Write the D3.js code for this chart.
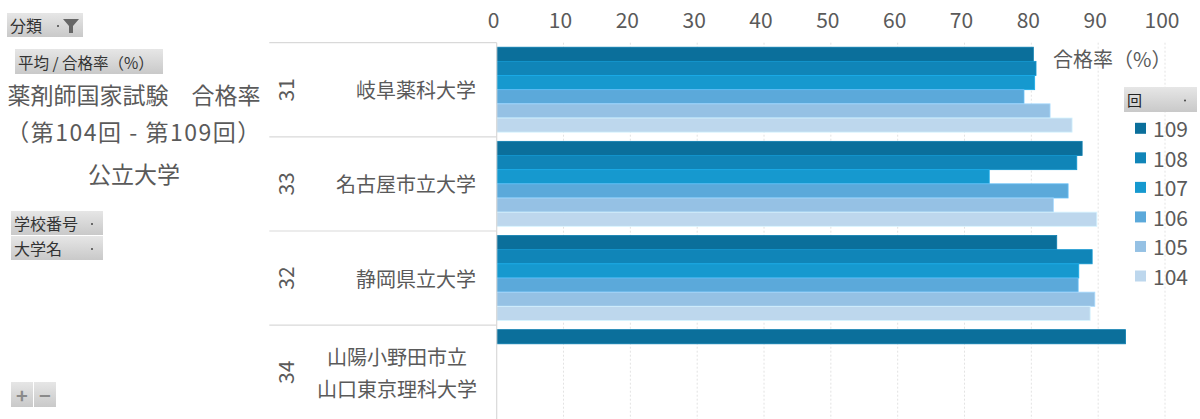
<!DOCTYPE html>
<html><head><meta charset="utf-8">
<script src="https://cdn.jsdelivr.net/npm/d3@7/dist/d3.min.js"></script>
<style>
html,body{margin:0;padding:0;background:#fff;}
svg{display:block;font-family:"Noto Sans CJK JP","Noto Sans",sans-serif;}
</style></head>
<body>
<svg id="chart" width="1200" height="419"></svg>
<script>
// ---- data ----
const schoolIds = ["31", "33", "32", "34"];
const schoolNames = [["岐阜薬科大学"], ["名古屋市立大学"], ["静岡県立大学"], ["山陽小野田市立", "山口東京理科大学"]];
const seriesNames = ["109", "108", "107", "106", "105", "104"];
const s109 = [80.3, 87.6, 83.8, 94.1];
const s108 = [80.7, 86.8, 89.1, null];
const s107 = [80.5, 73.7, 87.1, null];
const s106 = [78.9, 85.5, 87.0, null];
const s105 = [82.8, 83.3, 89.5, null];
const s104 = [86.1, 89.8, 88.8, null];
const xTicks = [0, 10, 20, 30, 40, 50, 60, 70, 80, 90, 100];
const seriesColors = ["#0b6f9b", "#1085b8", "#1699cf", "#5ba9da", "#95c1e4", "#bdd7ed"];

const seriesValues = [s109, s108, s107, s106, s105, s104];
const svg = d3.select("#chart");
const textCol = "#5a5a5a";

const x = d3.scaleLinear().domain([0, 100]).range([496.7, 1165]);
const yGroup = d3.scaleBand().domain(schoolIds).range([42.7, 419.3]);
const yInner = d3.scaleBand().domain(seriesNames).range([4.5, yGroup.bandwidth() - 4.7]);
const color = d3.scaleOrdinal().domain(seriesNames).range(seriesColors);

// gridlines
svg.append("g").selectAll("line").data(xTicks.filter(d => d > 0)).join("line")
  .attr("x1", d => x(d)).attr("x2", d => x(d))
  .attr("y1", yGroup.range()[0]).attr("y2", 419)
  .attr("stroke", "#e3e3e3").attr("stroke-width", 1).attr("stroke-dasharray", "2,2");

// top axis
const axis = svg.append("g").attr("transform", "translate(-3.5,28)")
  .call(d3.axisTop(x).tickValues(xTicks).tickSize(0).tickPadding(0));
axis.select(".domain").remove();
axis.selectAll("text").attr("fill", textCol).style("font-size", "21px")
  .style("font-family", '"Noto Sans CJK JP","Noto Sans",sans-serif');

// bars
const flat = [];
schoolIds.forEach((id, gi) => {
  seriesNames.forEach((s, si) => {
    const v = seriesValues[si][gi];
    if (v != null) flat.push({ id, s, v });
  });
});
svg.append("g").selectAll("rect").data(flat).join("rect")
  .attr("x", x(0))
  .attr("y", d => yGroup(d.id) + yInner(d.s))
  .attr("width", d => x(d.v) - x(0))
  .attr("height", yInner.bandwidth())
  .attr("fill", d => color(d.s))
  .attr("stroke", d => d3.color(color(d.s)).brighter(0.35))
  .attr("stroke-width", 0.8);

// axis line (left)
svg.append("line").attr("x1", x(0)).attr("x2", x(0))
  .attr("y1", yGroup.range()[0]).attr("y2", 419)
  .attr("stroke", "#d9d9d9").attr("stroke-width", 1.2);

// separators in row header area
svg.append("g").selectAll("line").data(schoolIds).join("line")
  .attr("x1", 269.3).attr("x2", x(0))
  .attr("y1", d => yGroup(d)).attr("y2", d => yGroup(d))
  .attr("stroke", "#d9d9d9").attr("stroke-width", 1.2);

// row labels: school number (rotated)
svg.append("g").selectAll("text").data(schoolIds).join("text")
  .attr("transform", d => `translate(285,${yGroup(d) + yGroup.bandwidth() / 2}) rotate(-90)`)
  .attr("text-anchor", "middle").attr("dominant-baseline", "central")
  .attr("fill", textCol).style("font-size", "21px").text(d => d);

// row labels: school names
schoolIds.forEach((id, i) => {
  const lines = schoolNames[i];
  const cy = yGroup(id) + yGroup.bandwidth() / 2;
  if (lines.length === 1) {
    svg.append("text").attr("x", 476).attr("y", cy)
      .attr("text-anchor", "end").attr("dominant-baseline", "central")
      .attr("fill", textCol).style("font-size", "20px").text(lines[0]);
  } else {
    lines.forEach((t, k) => {
      svg.append("text").attr("x", 397).attr("y", cy + (k - 0.5) * 31.6)
        .attr("text-anchor", "middle").attr("dominant-baseline", "central")
        .attr("fill", textCol).style("font-size", "20px").text(t);
    });
  }
});

// title
const titleLines = [
  { t: "薬剤師国家試験　合格率", y: 94, ls: 0 },
  { t: "（第104回 - 第109回）", y: 131, ls: 1.5 },
  { t: "公立大学", y: 173, ls: 0 }
];
svg.append("g").selectAll("text").data(titleLines).join("text")
  .attr("x", 134).attr("y", d => d.y)
  .attr("text-anchor", "middle").attr("dominant-baseline", "central")
  .style("letter-spacing", d => d.ls + "px")
  .attr("fill", textCol).style("font-size", "23px").text(d => d.t);

// pivot field buttons
const defs = svg.append("defs");
const grad = defs.append("linearGradient").attr("id", "btn").attr("x1", 0).attr("x2", 0).attr("y1", 0).attr("y2", 1);
grad.append("stop").attr("offset", "0%").attr("stop-color", "#e6e6e6");
grad.append("stop").attr("offset", "100%").attr("stop-color", "#c9c9c9");

function button(x0, y0, w, h, label, opts = {}) {
  const g = svg.append("g");
  g.append("rect").attr("x", x0).attr("y", y0).attr("width", w).attr("height", h).attr("fill", "url(#btn)");
  g.append("text").attr("x", x0 + 3).attr("y", y0 + h / 2).attr("dominant-baseline", "central")
    .attr("fill", "#333").style("font-size", (opts.fs || 16) + "px").text(label);
  if (opts.arrow) {
    g.append("circle").attr("cx", opts.arrow).attr("cy", y0 + h / 2 + 1).attr("r", 1).attr("fill", "#444");
  }
  return g;
}
const b1 = button(7, 13, 76, 24, "分類", { arrow: 58 });
b1.append("path").attr("d", "M63,19 L79,19 L73,26 L73,33 L69,33 L69,26 Z").attr("fill", "#666");
button(15, 49, 148, 25, "平均 / 合格率（%）", { fs: 15.5 });
button(11, 211, 92, 24, "学校番号", { arrow: 92 });
button(11, 236, 92, 24, "大学名", { arrow: 92 });

// + - buttons
svg.append("rect").attr("x", 11).attr("y", 382).attr("width", 22).attr("height", 25).attr("fill", "url(#btn)");
svg.append("rect").attr("x", 34).attr("y", 382).attr("width", 22).attr("height", 25).attr("fill", "url(#btn)");
svg.append("text").attr("x", 22).attr("y", 394.5).attr("text-anchor", "middle").attr("dominant-baseline", "central")
  .attr("fill", "#8a8a8a").style("font-size", "20px").style("font-weight", "bold").text("+");
svg.append("text").attr("x", 45).attr("y", 394.5).attr("text-anchor", "middle").attr("dominant-baseline", "central")
  .attr("fill", "#8a8a8a").style("font-size", "20px").style("font-weight", "bold").text("−");

// legend
svg.append("text").attr("x", 1053).attr("y", 58).attr("dominant-baseline", "central")
  .attr("fill", textCol).style("font-size", "20px").text("合格率（%）");
const lb = svg.append("g");
lb.append("rect").attr("x", 1124).attr("y", 87).attr("width", 73).attr("height", 25).attr("fill", "url(#btn)");
lb.append("text").attr("x", 1127).attr("y", 99.5).attr("dominant-baseline", "central")
  .attr("fill", "#222").style("font-size", "15px").text("回");
lb.append("circle").attr("cx", 1185).attr("cy", 100.5).attr("r", 1).attr("fill", "#444");

const legendY = d3.scalePoint().domain(seriesNames).range([128.3, 276]);
const li = svg.append("g").selectAll("g").data(seriesNames).join("g")
  .attr("transform", d => `translate(1135,${legendY(d)})`);
li.append("rect").attr("x", 0).attr("y", -5.5).attr("width", 11).attr("height", 11).attr("fill", d => color(d));
li.append("text").attr("x", 18).attr("y", 0).attr("dominant-baseline", "central")
  .attr("fill", textCol).style("font-size", "21px").text(d => d);
</script>
</body></html>
